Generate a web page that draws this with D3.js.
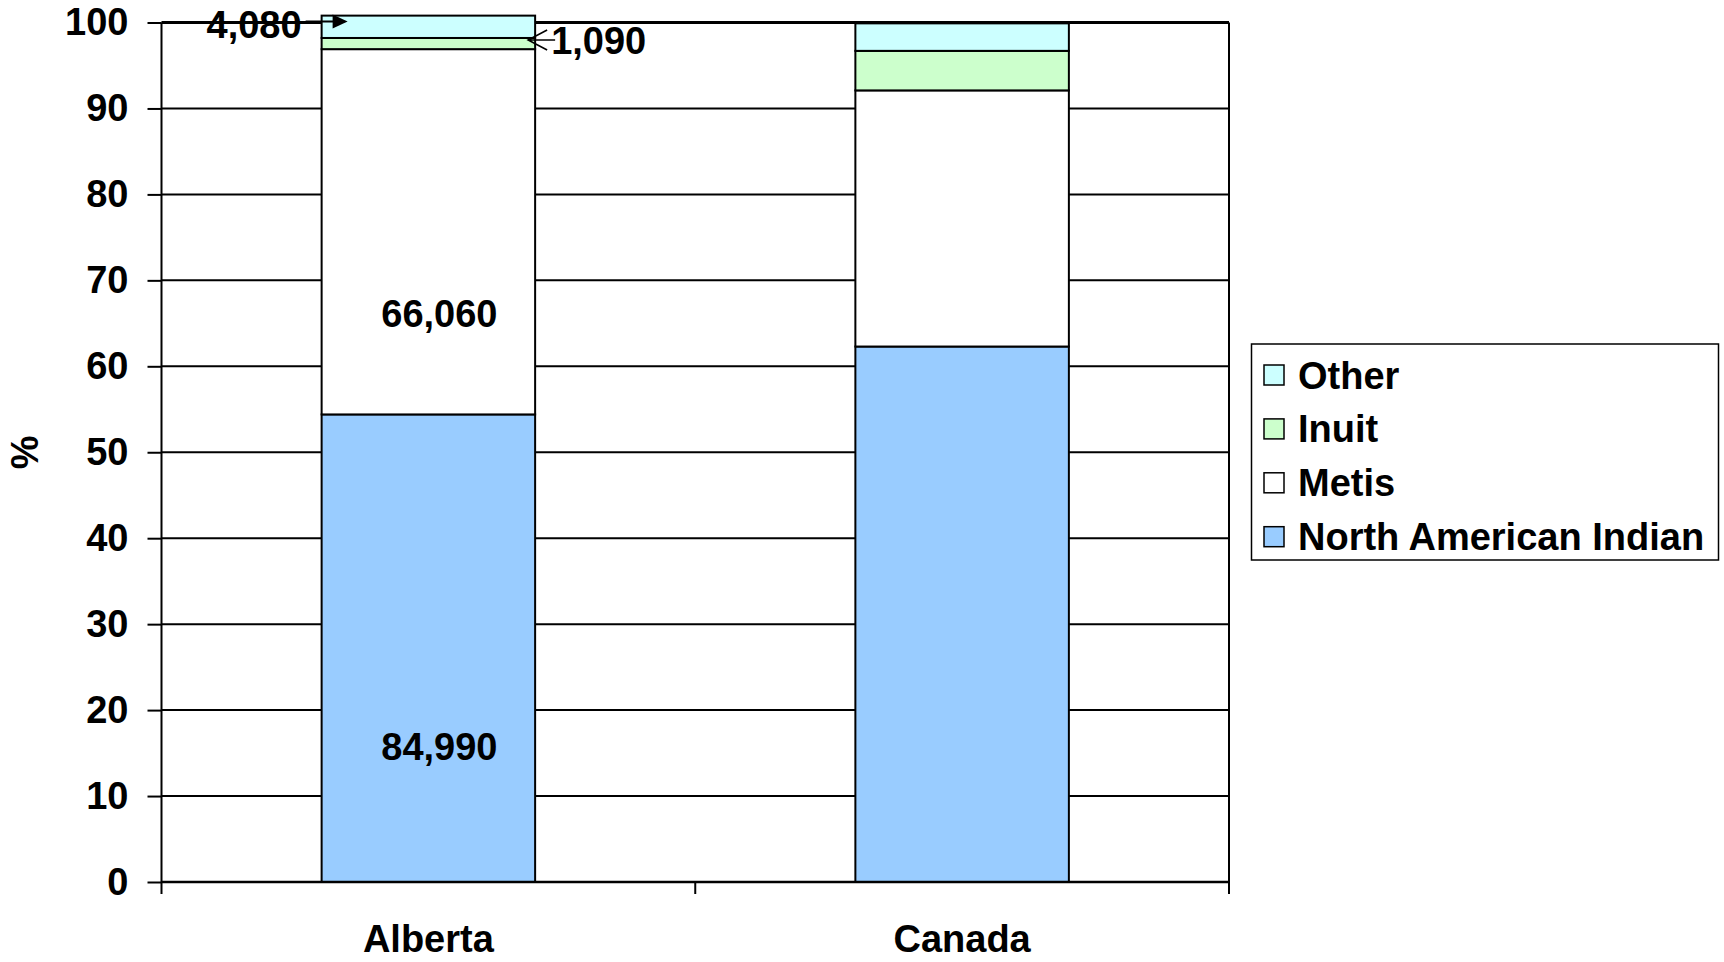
<!DOCTYPE html>
<html>
<head>
<meta charset="utf-8">
<script src="https://cdn.jsdelivr.net/npm/d3@7"></script>
<style>
  html, body { margin: 0; padding: 0; background: #fff; }
  svg text { font-family: "Liberation Sans", Arial, sans-serif; font-weight: bold; fill: #000; }
</style>
</head>
<body>
<svg id="chart" width="1724" height="962"></svg>
<script>
// ---- data ----
const categories = ["Alberta", "Canada"];
const seriesNames = ["North American Indian", "Metis", "Inuit", "Other"];
const naiPct   = [54.4, 62.3];
const metisPct = [42.5, 29.8];
const inuitPct = [1.3, 4.6];
const otherPct = [2.6, 3.2];
const seriesColors = ["#99CCFF", "#FFFFFF", "#CCFFCC", "#CCFFFF"];
const albertaCounts = ["84,990", "66,060", "1,090", "4,080"];
const yTicks = [0, 10, 20, 30, 40, 50, 60, 70, 80, 90, 100];
const yLabel = "%";

(function () {
// ---- layout ----
const svg = d3.select("#chart");
const pLeft = 161.5, pRight = 1229, pTop = 22.5, pBottom = 882;
const fontSize = 38;

const rows = categories.map((c, i) => ({
  category: c,
  "North American Indian": naiPct[i],
  "Metis": metisPct[i],
  "Inuit": inuitPct[i],
  "Other": otherPct[i]
}));
const stacked = d3.stack().keys(seriesNames)(rows);

const x = d3.scaleBand().domain(categories).range([pLeft, pRight]).paddingInner(0.6).paddingOuter(0.3);
const xOuter = d3.scaleBand().domain(categories).range([pLeft, pRight]).padding(0);
const y = d3.scaleLinear().domain([0, 100]).range([pBottom, pTop]);
const color = d3.scaleOrdinal().domain(seriesNames).range(seriesColors);

// gridlines
svg.append("g").selectAll("line").data(yTicks).join("line")
  .attr("x1", pLeft).attr("x2", pRight)
  .attr("y1", d => y(d)).attr("y2", d => y(d))
  .attr("stroke", "#000").attr("stroke-width", d => d === 100 ? 3 : 2);

// right border
svg.append("line").attr("x1", pRight).attr("x2", pRight).attr("y1", y(100)).attr("y2", y(0))
  .attr("stroke", "#000").attr("stroke-width", 2);

// bars
const layers = svg.append("g").selectAll("g").data(stacked).join("g")
  .attr("fill", d => color(d.key));
layers.selectAll("rect").data(d => d).join("rect")
  .attr("x", d => x(d.data.category))
  .attr("width", x.bandwidth())
  .attr("y", d => y(d[1]))
  .attr("height", d => y(d[0]) - y(d[1]))
  .attr("stroke", "#000").attr("stroke-width", 2);

// y axis
const yAxis = d3.axisLeft(y).tickValues(yTicks).tickSize(14).tickPadding(19).tickFormat(d3.format("d"));
const gy = svg.append("g").attr("transform", `translate(${pLeft},0)`).call(yAxis);
gy.select(".domain").attr("stroke", "#000").attr("stroke-width", 2).attr("d", `M0,${y(100)}V${y(0)}`);
gy.selectAll(".tick line").attr("stroke", "#000").attr("stroke-width", 2);
gy.selectAll(".tick text").attr("font-size", fontSize).attr("font-family", "Liberation Sans, Arial, sans-serif").attr("font-weight", "bold").attr("fill", "#000");

// x axis
svg.append("line").attr("x1", pLeft).attr("x2", pRight).attr("y1", pBottom).attr("y2", pBottom)
  .attr("stroke", "#000").attr("stroke-width", 2.5);
const bounds = categories.map(c => xOuter(c)).concat([pRight]);
svg.append("g").selectAll("line").data(bounds).join("line")
  .attr("x1", d => d).attr("x2", d => d).attr("y1", pBottom).attr("y2", pBottom + 12)
  .attr("stroke", "#000").attr("stroke-width", 2);
svg.append("g").selectAll("text").data(categories).join("text")
  .attr("x", d => xOuter(d) + xOuter.bandwidth() / 2)
  .attr("y", 951.5)
  .attr("text-anchor", "middle")
  .attr("font-size", fontSize)
  .text(d => d);

// y label
svg.append("text")
  .attr("transform", `translate(25,${(y(0) + y(100)) / 2}) rotate(-90)`)
  .attr("text-anchor", "middle").attr("dy", "0.35em")
  .attr("font-size", fontSize)
  .text(yLabel);

// in-bar labels for Alberta (NAI, Metis)
const alb = categories[0];
const bx = x(alb), bw = x.bandwidth();
const labelFrac = [0.29, 0.275];
[0, 1].forEach(si => {
  const seg = stacked[si][0];
  const v = seg[0] + (seg[1] - seg[0]) * labelFrac[si];
  svg.append("text")
    .attr("x", bx + bw / 2 + 11)
    .attr("y", y(v)).attr("dy", "0.35em")
    .attr("text-anchor", "middle")
    .attr("font-size", fontSize)
    .text(albertaCounts[si]);
});

// annotation: Other (4,080) with filled arrowhead
const otherSeg = stacked[3][0];
const ay1 = y(otherSeg[1]) + 6;
const tip1 = bx + 26;
svg.append("line").attr("x1", bx - 16).attr("x2", tip1 - 10).attr("y1", ay1).attr("y2", ay1)
  .attr("stroke", "#000").attr("stroke-width", 2);
svg.append("path")
  .attr("d", `M${tip1},${ay1}L${tip1 - 15},${ay1 - 7}L${tip1 - 15},${ay1 + 7}Z`)
  .attr("fill", "#000");
svg.append("text")
  .attr("x", bx - 20).attr("y", ay1 + 3).attr("dy", "0.35em")
  .attr("text-anchor", "end").attr("font-size", fontSize)
  .text(albertaCounts[3]);

// annotation: Inuit (1,090) with open arrowhead
const inuitSeg = stacked[2][0];
const ay2 = y(inuitSeg[1]) + 2;
const tip2 = bx + bw - 7;
svg.append("path")
  .attr("d", `M${tip2 + 27},${ay2}L${tip2},${ay2}M${tip2 + 19},${ay2 - 10}L${tip2},${ay2}L${tip2 + 19},${ay2 + 10}`)
  .attr("fill", "none").attr("stroke", "#000").attr("stroke-width", 1.6);
svg.append("text")
  .attr("x", bx + bw + 16).attr("y", ay2 + 1).attr("dy", "0.35em")
  .attr("text-anchor", "start").attr("font-size", fontSize)
  .text(albertaCounts[2]);

// legend
const legend = svg.append("g");
legend.append("rect").attr("x", 1251.5).attr("y", 344).attr("width", 467).attr("height", 216)
  .attr("fill", "#fff").attr("stroke", "#000").attr("stroke-width", 1.5);
const legendOrder = seriesNames.slice().reverse();
const items = legend.selectAll("g.item").data(legendOrder).join("g").attr("class", "item")
  .attr("transform", (d, i) => `translate(0,${i * 53.9})`);
items.append("rect").attr("x", 1264).attr("y", 365).attr("width", 20).attr("height", 20)
  .attr("fill", d => color(d)).attr("stroke", "#000").attr("stroke-width", 1.5);
items.append("text").attr("x", 1298).attr("y", 388.5).attr("font-size", fontSize).text(d => d);
})();
</script>
</body>
</html>
